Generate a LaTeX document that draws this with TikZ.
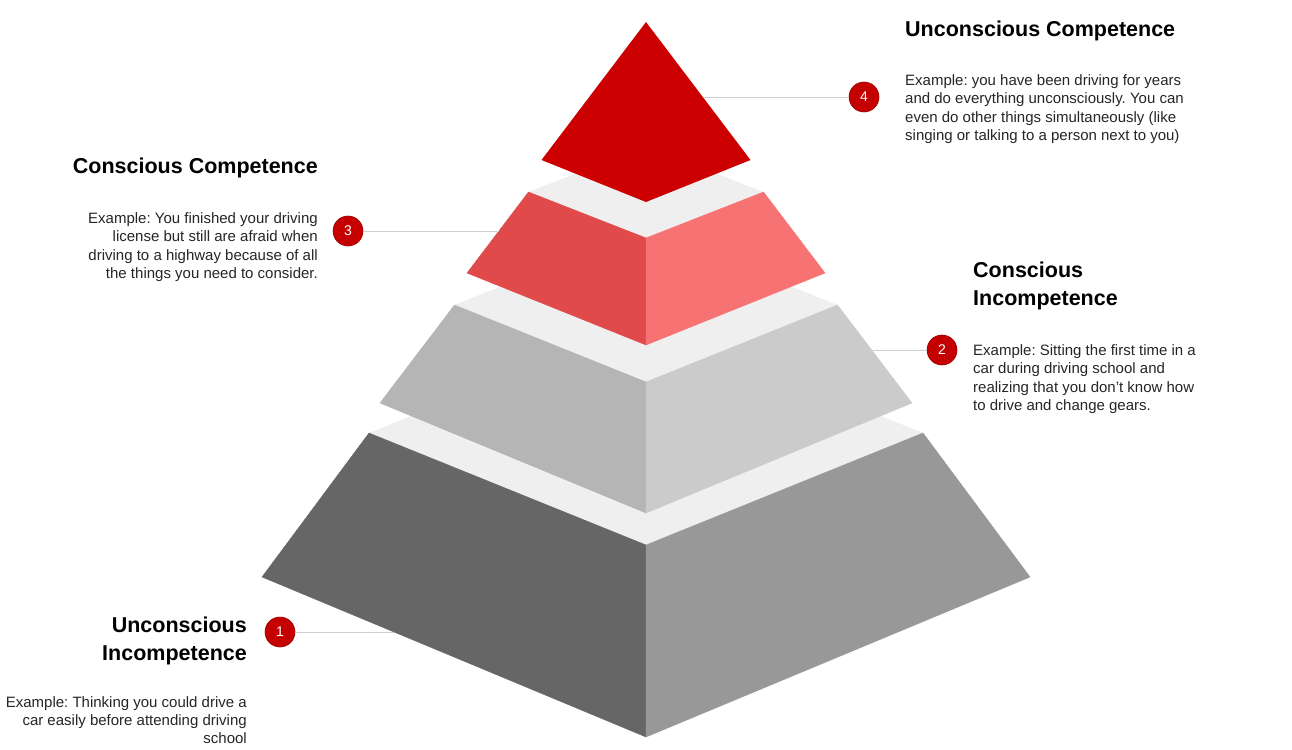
\documentclass[tikz,border=0pt]{standalone}
\usepackage{fontspec}
\setmainfont{Liberation Sans}
\usepackage{tikz}
\usepackage{xcolor}
\frenchspacing
\definecolor{peakred}{RGB}{204,0,0}
\definecolor{badgered}{RGB}{196,0,0}
\definecolor{redleft}{RGB}{224,74,74}
\definecolor{redright}{RGB}{247,115,115}
\definecolor{midleft}{RGB}{181,181,181}
\definecolor{midright}{RGB}{203,203,203}
\definecolor{baseleft}{RGB}{102,102,102}
\definecolor{baseright}{RGB}{152,152,152}
\definecolor{ledge}{RGB}{239,239,239}
\definecolor{leadgray}{RGB}{208,208,208}

\tikzset{
    badge/.style={circle, fill=badgered, draw=badgered!80!black, line width=0.6pt,
                  minimum size=30pt, inner sep=0pt, text=white, font=\fontsize{14}{14}\selectfont},
    stagetitle/.style={inner sep=0pt, text=black, font=\fontsize{21.5}{28}\selectfont\bfseries},
    stagenote/.style={inner sep=0pt, text=black!85, font=\fontsize{15}{18.4}\selectfont},
    leader/.style={draw=leadgray, line width=0.8pt}
}

\begin{document}
\begin{tikzpicture}[x=1pt, y=-1pt]
        % Cadre
        \fill[white] (0,0) rectangle (1292,749);
        \useasboundingbox (0,0) rectangle (1292,749);

        % --- Tranches, du bas vers le haut ---
        \foreach \wt/\yt/\ft/\wb/\yb/\fb/\cl/\cr in {277/433/545/384/577/737/baseleft/baseright,
                                                  191.5/305/382/266/403/513/midleft/midright,
                                                  117.5/192/238/179/273/345/redleft/redright} {
            \fill[ledge] (646-\wt,\yt) -- (646,2*\yt-\ft) -- (646+\wt,\yt) -- (646,\ft) -- cycle;
            \filldraw[fill=\cl, draw=\cl, line width=0.4pt] (646-\wt,\yt) -- (646,\ft) -- (646,\fb) -- (646-\wb,\yb) -- cycle;
            \filldraw[fill=\cr, draw=\cr, line width=0.4pt] (646+\wt,\yt) -- (646,\ft) -- (646,\fb) -- (646+\wb,\yb) -- cycle;
        }

        % --- Sommet ---
        \fill[peakred] (646,22) -- (750.5,160) -- (646,202) -- (541.5,160) -- cycle;

        % --- Points d'attache sur les faces ---
        \coordinate (e4) at (702.5,97);
        \coordinate (e3) at (498.6,231);
        \coordinate (e2) at (871.7,350);
        \coordinate (e1) at (394,632);

        % --- Pastilles et traits ---
        \node[badge] (b4) at (864,97) {4};
        \node[badge] (b3) at (348,231) {3};
        \node[badge] (b2) at (942,350) {2};
        \node[badge] (b1) at (280,632) {1};
        \draw[leader] (e4) -- (b4);
        \draw[leader] (e3) -- (b3);
        \draw[leader] (e2) -- (b2);
        \draw[leader] (e1) -- (b1);

        % --- Etiquettes ---
        \node[stagetitle, anchor=north west] (t4) at (905,21) {Unconscious Competence};
        \node[stagenote, anchor=north west, align=left] (n4) at (905,74.3)
            {Example: you have been driving for years\\and do everything unconsciously. You can\\even do other things simultaneously (like\\singing or talking to a person next to you)};

        \node[stagetitle, anchor=north east] (t3) at (318,157.6) {Conscious Competence};
        \node[stagenote, anchor=north east, align=right] (n3) at (318,212.3)
            {Example: You finished your driving\\license but still are afraid when\\driving to a highway because of all\\the things you need to consider.};

        \node[stagetitle, anchor=north west, align=left] (t2) at (973,261.6) {Conscious\\Incompetence};
        \node[stagenote, anchor=north west, align=left] (n2) at (973,344.3)
            {Example: Sitting the first time in a\\car during driving school and\\realizing that you don’t know how\\to drive and change gears.};

        \node[stagetitle, anchor=north east, align=right] (t1) at (247,616.3) {Unconscious\\Incompetence};
        \node[stagenote, anchor=north east, align=right] (n1) at (247,696)
            {Example: Thinking you could drive a\\car easily before attending driving\\school};
    \end{tikzpicture}
\end{document}
